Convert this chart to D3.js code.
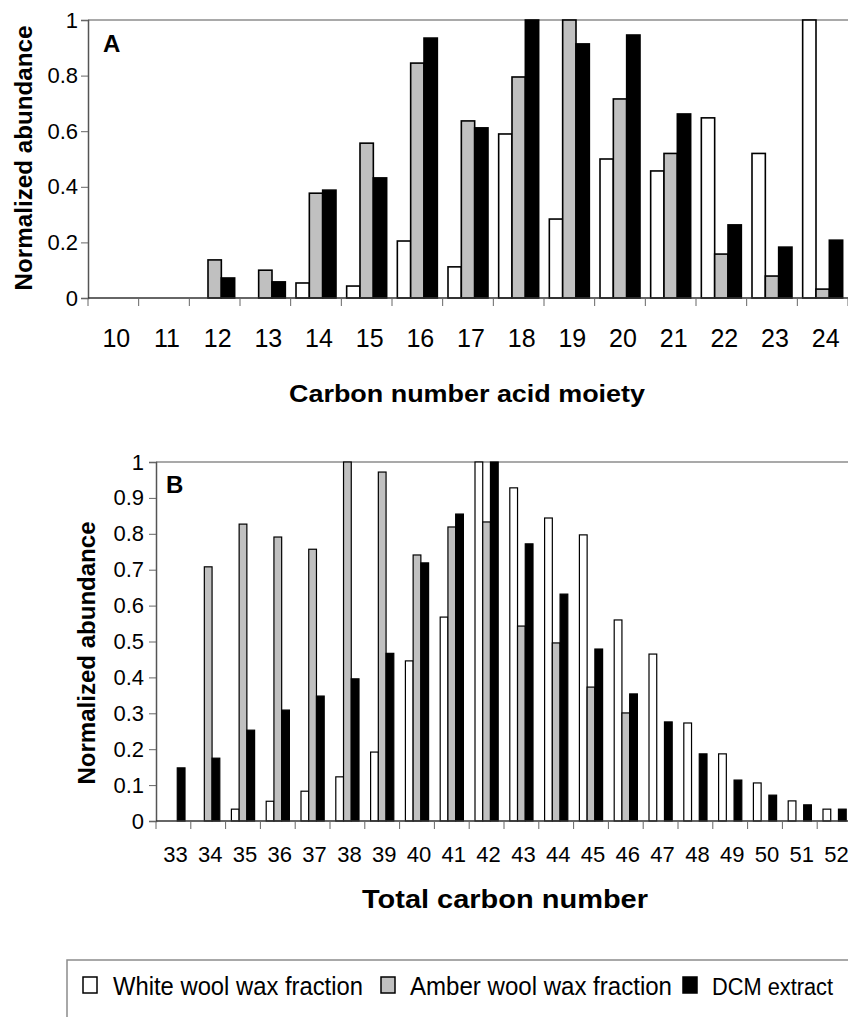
<!DOCTYPE html>
<html><head><meta charset="utf-8">
<script src="https://cdn.jsdelivr.net/npm/d3@7"></script>
<style>body{margin:0;background:#fff} svg{display:block;font-family:"Liberation Sans",Arial,sans-serif}</style>
</head><body><svg id="c" width="848" height="1017"></svg>
<script>
const seriesNames = ["White wool wax fraction", "Amber wool wax fraction", "DCM extract"];
const seriesColors = ["#ffffff", "#c0c0c0", "#000000"];

const catsA = ["10","11","12","13","14","15","16","17","18","19","20","21","22","23","24"];
const whiteA = [0, 0, 0, 0, 0.054, 0.043, 0.205, 0.112, 0.59, 0.284, 0.50, 0.457, 0.648, 0.52, 1.0];
const amberA = [0, 0, 0.137, 0.10, 0.377, 0.557, 0.845, 0.637, 0.795, 1.0, 0.716, 0.52, 0.158, 0.079, 0.032];
const dcmA   = [0, 0, 0.072, 0.058, 0.388, 0.432, 0.935, 0.612, 1.0, 0.914, 0.946, 0.662, 0.263, 0.183, 0.208];
const ticksA = [0, 0.2, 0.4, 0.6, 0.8, 1];
const tickLabelsA = ["0", "0.2", "0.4", "0.6", "0.8", "1"];

const catsB = ["33","34","35","36","37","38","39","40","41","42","43","44","45","46","47","48","49","50","51","52"];
const whiteB = [0, 0, 0.033, 0.055, 0.083, 0.123, 0.192, 0.446, 0.568, 1.0, 0.928, 0.844, 0.797, 0.56, 0.465, 0.273, 0.187, 0.106, 0.056, 0.033];
const amberB = [0, 0.708, 0.827, 0.791, 0.757, 1.0, 0.972, 0.741, 0.819, 0.833, 0.543, 0.496, 0.373, 0.301, 0, 0, 0, 0, 0, 0];
const dcmB   = [0.148, 0.175, 0.253, 0.309, 0.348, 0.396, 0.467, 0.719, 0.855, 1.0, 0.772, 0.632, 0.479, 0.354, 0.276, 0.187, 0.114, 0.072, 0.045, 0.033];
const ticksB = [0, 0.1, 0.2, 0.3, 0.4, 0.5, 0.6, 0.7, 0.8, 0.9, 1];
const tickLabelsB = ["0", "0.1", "0.2", "0.3", "0.4", "0.5", "0.6", "0.7", "0.8", "0.9", "1"];

const svg = d3.select("#c");

function panel(o) {
  const x = d3.scaleBand().domain(o.cats).range([o.left, o.right]);
  const y = d3.scaleLinear().domain([0, 1]).range([o.bottom, o.top]);
  const xs = d3.scaleBand().domain(seriesNames).range([0, x.bandwidth()]).paddingInner(0).paddingOuter(o.pad);
  const g = svg.append("g");
  g.append("line").attr("x1", o.left).attr("x2", 848).attr("y1", o.top).attr("y2", o.top)
    .attr("stroke", "#8c8c8c").attr("stroke-width", 1.5);
  const series = [o.white, o.amber, o.dcm];
  series.forEach((vals, si) => {
    g.append("g").selectAll("rect")
      .data(o.cats.map((c, i) => ({c, v: vals[i]})).filter(d => d.v > 0))
      .join("rect")
      .attr("x", d => x(d.c) + xs(seriesNames[si]))
      .attr("width", xs.bandwidth())
      .attr("y", d => y(d.v))
      .attr("height", d => y(0) - y(d.v))
      .attr("fill", seriesColors[si])
      .attr("stroke", "#000").attr("stroke-width", o.sw);
  });
  const ya = d3.axisLeft(y).tickValues(o.ticks).tickFormat((d, i) => o.tickLabels[i]).tickSize(7).tickPadding(o.ytPad);
  const yg = g.append("g").attr("transform", `translate(${o.left},0)`).call(ya)
    .attr("font-size", null).attr("font-family", null);
  yg.select(".domain").attr("stroke", "#555").attr("stroke-width", 1.5);
  yg.selectAll(".tick line").attr("stroke", "#666");
  yg.selectAll(".tick text").style("font-size", o.ytSize + "px").style("font-family", "'Liberation Sans', Arial, sans-serif").attr("fill", "#000");
  g.append("line").attr("x1", o.left).attr("x2", 848).attr("y1", o.bottom).attr("y2", o.bottom)
    .attr("stroke", "#333").attr("stroke-width", 1.5);
  const bounds = o.cats.map(c => x(c)).concat([o.right]);
  g.append("g").selectAll("line").data(bounds).join("line")
    .attr("x1", d => d).attr("x2", d => d).attr("y1", o.bottom).attr("y2", o.bottom + 8)
    .attr("stroke", "#666").attr("stroke-width", 1);
  g.append("g").selectAll("text").data(o.cats).join("text")
    .attr("x", d => x(d) + x.bandwidth() / 2 + o.xlDx).attr("y", o.xlY)
    .attr("text-anchor", "middle").attr("font-size", o.xlSize).text(d => d);
  g.append("text").attr("x", o.titleX).attr("y", o.titleY).attr("text-anchor", "middle")
    .attr("font-weight", "bold").attr("font-size", o.titleSize)
    .attr("textLength", o.titleLen).attr("lengthAdjust", "spacingAndGlyphs").text(o.title);
  g.append("text").attr("transform", `translate(${o.ylX},${o.ylY}) rotate(-90)`).attr("text-anchor", "middle")
    .attr("font-weight", "bold").attr("font-size", o.ylSize)
    .attr("textLength", o.ylLen).attr("lengthAdjust", "spacingAndGlyphs").text("Normalized abundance");
  g.append("text").attr("x", o.letterX).attr("y", o.letterY).attr("font-weight", "bold")
    .attr("font-size", 24).text(o.letter);
}

panel({cats: catsA, white: whiteA, amber: amberA, dcm: dcmA, ticks: ticksA, tickLabels: tickLabelsA,
  left: 88, right: 848, top: 20, bottom: 298, pad: 0.4, sw: 1.6,
  ytSize: 22, ytPad: 3, xlSize: 25, xlY: 347, xlDx: 3,
  title: "Carbon number acid moiety", titleX: 467, titleY: 402, titleSize: 24, titleLen: 356,
  ylX: 32, ylY: 158, ylSize: 24.5, ylLen: 265, letter: "A", letterX: 103, letterY: 52});

panel({cats: catsB, white: whiteB, amber: amberB, dcm: dcmB, ticks: ticksB, tickLabels: tickLabelsB,
  left: 156, right: 852, top: 462, bottom: 821, pad: 0.75, sw: 1.2,
  ytSize: 22, ytPad: 5, xlSize: 22, xlY: 862, xlDx: 2,
  title: "Total carbon number", titleX: 505, titleY: 908, titleSize: 26, titleLen: 286,
  ylX: 95, ylY: 653, ylSize: 24, ylLen: 263, letter: "B", letterX: 166, letterY: 493});

// legend (box runs past the right and bottom edges, as in the reference)
const lg = svg.append("g");
lg.append("path").attr("d", "M67,1017 L67,960 L848,960")
  .attr("fill", "none").attr("stroke", "#8c8c8c").attr("stroke-width", 1.5);
const legX = [83, 381, 683];
const legTextX = [113, 410, 712];
const legLen = [250, 262, 121];
const legSize = [26, 26, 23.5];
seriesNames.forEach((n, i) => {
  lg.append("rect").attr("x", legX[i]).attr("y", 977).attr("width", 14).attr("height", 16)
    .attr("fill", seriesColors[i]).attr("stroke", "#000").attr("stroke-width", 1.5);
  lg.append("text").attr("x", legTextX[i]).attr("y", 995).attr("font-size", legSize[i])
    .attr("textLength", legLen[i]).attr("lengthAdjust", "spacingAndGlyphs").text(n);
});
</script></body></html>
